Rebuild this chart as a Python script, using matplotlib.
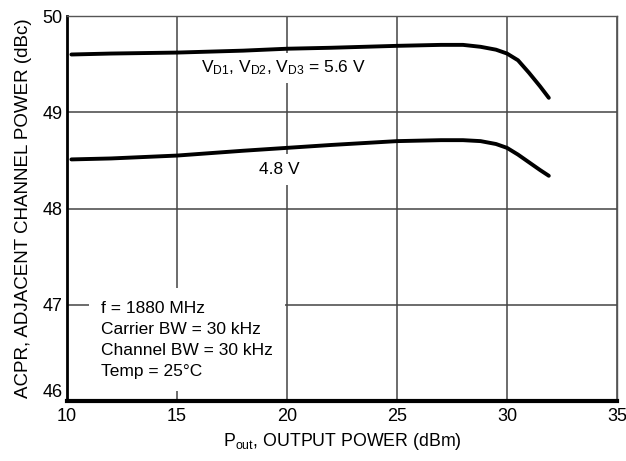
import numpy as np
import matplotlib
matplotlib.use('Agg')
import matplotlib.pyplot as plt

plt.rcParams['font.family'] = ['Liberation Sans', 'DejaVu Sans']
plt.rcParams['mathtext.fontset'] = 'custom'
plt.rcParams['mathtext.rm'] = 'Liberation Sans'
plt.rcParams['mathtext.it'] = 'Liberation Sans'

# ACPR vs output power
pout = [10.2, 12, 15, 18, 20, 22, 25, 27, 28, 28.8, 29.5, 30, 30.5, 31, 31.5, 31.9]
acpr_56v = [49.60, 49.61, 49.62, 49.64, 49.66, 49.67, 49.69, 49.70, 49.70, 49.68, 49.65, 49.61, 49.54, 49.41, 49.27, 49.15]
acpr_48v = [48.51, 48.52, 48.55, 48.60, 48.63, 48.66, 48.70, 48.71, 48.71, 48.70, 48.67, 48.63, 48.56, 48.48, 48.40, 48.34]

xticks = [10, 15, 20, 25, 30, 35]
yticks = [46, 47, 48, 49, 50]

fig = plt.figure(figsize=(6.26, 4.61), dpi=100)
ax = fig.add_axes([67 / 626, 60 / 461, 550 / 626, 385 / 461])

ax.plot(pout, acpr_56v, color='black', lw=2.8, solid_capstyle='round', solid_joinstyle='round', zorder=4)
ax.plot(pout, acpr_48v, color='black', lw=2.8, solid_capstyle='round', solid_joinstyle='round', zorder=4)

ax.set_xlim(10, 35)
ax.set_ylim(46, 50)
ax.set_xticks(xticks)
ax.set_yticks(yticks)
ax.grid(True, color='#444444', lw=1.1)
ax.tick_params(length=0, labelsize=13)
ax.tick_params(axis='x', pad=5)
ax.tick_params(axis='y', pad=3)
# the lowest y label sits a little above the axis corner
ax.get_yticklabels()[0].set_verticalalignment('bottom')
for s in ['top', 'right']:
    ax.spines[s].set_color('#555555')
    ax.spines[s].set_linewidth(1.0)
ax.spines['left'].set_linewidth(2)
ax.spines['bottom'].set_linewidth(3)

box = dict(facecolor='white', edgecolor='none', pad=4)
ax.text(19.85, 49.41, r'V$_{\rm D1}$, V$_{\rm D2}$, V$_{\rm D3}$ = 5.6 V', fontsize=12.5,
        ha='center', va='baseline', bbox=box, zorder=3)
ax.text(19.65, 48.36, '4.8 V', fontsize=12.5, ha='center', va='baseline',
        bbox=dict(facecolor='white', edgecolor='none', pad=6), zorder=3)
ax.text(11.55, 46.23, 'f = 1880 MHz\nCarrier BW = 30 kHz\nChannel BW = 30 kHz\nTemp = 25\u00b0C',
        fontsize=12.5, ha='left', va='bottom', linespacing=1.5,
        bbox=dict(facecolor='white', edgecolor='none', pad=9), zorder=3)

ax.set_xlabel(r'P$_{\rm out}$, OUTPUT POWER (dBm)', fontsize=12.8, labelpad=4)
ax.set_ylabel('ACPR, ADJACENT CHANNEL POWER (dBc)', fontsize=13.5, labelpad=8)

fig.savefig('out.png', dpi=100)
